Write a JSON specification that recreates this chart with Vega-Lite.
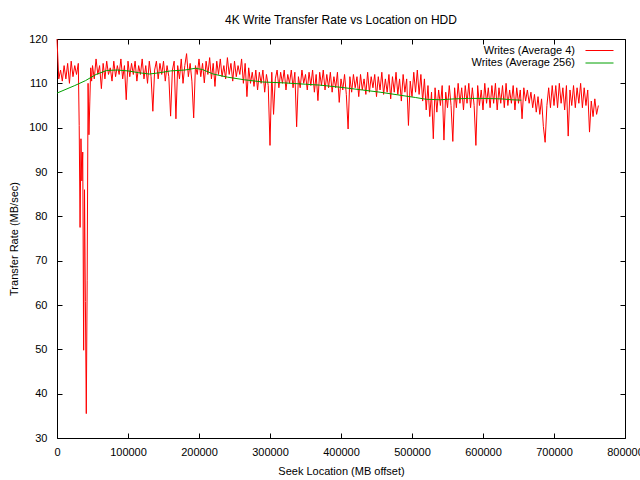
{
  "$schema": "https://vega.github.io/schema/vega-lite/v6.json",
  "width": 568,
  "height": 399,
  "autosize": "none",
  "padding": {"left": 57, "top": 39, "right": 15, "bottom": 42},
  "background": "white",
  "title": {
    "text": "4K Write Transfer Rate vs Location on HDD",
    "font": "Liberation Sans",
    "fontSize": 12,
    "fontWeight": "normal",
    "color": "#000",
    "anchor": "middle",
    "offset": 6
  },
  "config": {
    "view": {"stroke": "#000", "strokeWidth": 1},
    "axis": {
      "domain": false,
      "grid": false,
      "tickColor": "#000",
      "tickSize": -5,
      "labelFont": "Liberation Sans",
      "labelFontSize": 11,
      "labelColor": "#000",
      "titleFont": "Liberation Sans",
      "titleFontSize": 11,
      "titleFontWeight": "normal",
      "titleColor": "#000"
    },
    "legend": {
      "orient": "none",
      "legendX": 537,
      "legendY": 6,
      "padding": 0,
      "title": null,
      "symbolType": "M-5,0H5",
      "symbolSize": 31.4,
      "symbolStrokeWidth": 1,
      "labelFont": "Liberation Sans",
      "labelFontSize": 11,
      "labelColor": "#000",
      "labelAlign": "right",
      "labelOffset": -30,
      "rowPadding": 0.5
    }
  },
  "datasets": {
    "avg4": [
      {"x": 0, "v": 120}, {"x": 2500, "v": 111}, {"x": 5000, "v": 113}, {"x": 7500, "v": 110.5},
      {"x": 10000, "v": 114}, {"x": 12500, "v": 111}, {"x": 15000, "v": 114.5}, {"x": 17500, "v": 110},
      {"x": 20000, "v": 115}, {"x": 22500, "v": 111.5}, {"x": 25000, "v": 114}, {"x": 27500, "v": 112},
      {"x": 30000, "v": 114.5}, {"x": 31250, "v": 100.5}, {"x": 32500, "v": 77.5}, {"x": 33750, "v": 97.5},
      {"x": 35000, "v": 88}, {"x": 36250, "v": 94.5}, {"x": 37500, "v": 49.8}, {"x": 38750, "v": 86},
      {"x": 40000, "v": 60.8}, {"x": 41250, "v": 35.5}, {"x": 42500, "v": 65.6}, {"x": 43750, "v": 110},
      {"x": 45000, "v": 98.4}, {"x": 46250, "v": 106}, {"x": 47500, "v": 113.5}, {"x": 48750, "v": 110.5},
      {"x": 50000, "v": 114}, {"x": 52500, "v": 111}, {"x": 55000, "v": 115.5}, {"x": 57500, "v": 112},
      {"x": 60000, "v": 114}, {"x": 62500, "v": 108.8}, {"x": 65000, "v": 114.5}, {"x": 67500, "v": 111},
      {"x": 70000, "v": 115}, {"x": 72500, "v": 112}, {"x": 75000, "v": 113.5}, {"x": 77500, "v": 110.5},
      {"x": 80000, "v": 115}, {"x": 82500, "v": 111.5}, {"x": 85000, "v": 114}, {"x": 87500, "v": 112},
      {"x": 90000, "v": 115.5}, {"x": 92500, "v": 111}, {"x": 95000, "v": 114}, {"x": 97500, "v": 106.3},
      {"x": 100000, "v": 115}, {"x": 102500, "v": 111.5}, {"x": 105000, "v": 114.5}, {"x": 107500, "v": 112},
      {"x": 110000, "v": 115}, {"x": 112500, "v": 110.5}, {"x": 115000, "v": 114}, {"x": 117500, "v": 112},
      {"x": 120000, "v": 115.5}, {"x": 122500, "v": 111}, {"x": 125000, "v": 114}, {"x": 127500, "v": 110},
      {"x": 130000, "v": 115}, {"x": 132500, "v": 111.5}, {"x": 135000, "v": 103.7}, {"x": 137500, "v": 113},
      {"x": 140000, "v": 115}, {"x": 142500, "v": 111}, {"x": 145000, "v": 114.5}, {"x": 147500, "v": 112},
      {"x": 150000, "v": 115}, {"x": 152500, "v": 110.5}, {"x": 155000, "v": 114}, {"x": 157500, "v": 111.5},
      {"x": 160000, "v": 102.6}, {"x": 162500, "v": 113}, {"x": 165000, "v": 115}, {"x": 167500, "v": 102},
      {"x": 170000, "v": 114}, {"x": 172500, "v": 111}, {"x": 175000, "v": 115.5}, {"x": 177500, "v": 110},
      {"x": 180000, "v": 114}, {"x": 182500, "v": 116.7}, {"x": 185000, "v": 111.5}, {"x": 187500, "v": 114.5},
      {"x": 190000, "v": 110.5}, {"x": 192500, "v": 102.2}, {"x": 195000, "v": 114}, {"x": 197500, "v": 112},
      {"x": 200000, "v": 115.5}, {"x": 202500, "v": 111.5}, {"x": 205000, "v": 114.5}, {"x": 207500, "v": 110.1},
      {"x": 210000, "v": 115}, {"x": 212500, "v": 112}, {"x": 215000, "v": 115.8}, {"x": 217500, "v": 111},
      {"x": 220000, "v": 114.5}, {"x": 222500, "v": 109.3}, {"x": 225000, "v": 115}, {"x": 227500, "v": 112},
      {"x": 230000, "v": 115.5}, {"x": 232500, "v": 111.5}, {"x": 235000, "v": 114}, {"x": 237500, "v": 111},
      {"x": 240000, "v": 115.8}, {"x": 242500, "v": 112}, {"x": 245000, "v": 114.5}, {"x": 247500, "v": 110.5},
      {"x": 250000, "v": 115}, {"x": 252500, "v": 111.5}, {"x": 255000, "v": 114}, {"x": 257500, "v": 112},
      {"x": 260000, "v": 115.5}, {"x": 262500, "v": 110}, {"x": 265000, "v": 114.5}, {"x": 267500, "v": 107},
      {"x": 270000, "v": 113.5}, {"x": 272500, "v": 110}, {"x": 275000, "v": 112.5}, {"x": 277500, "v": 109.3},
      {"x": 280000, "v": 113}, {"x": 282500, "v": 108.5}, {"x": 285000, "v": 112.5}, {"x": 287500, "v": 110},
      {"x": 290000, "v": 113}, {"x": 292500, "v": 108}, {"x": 295000, "v": 112}, {"x": 297500, "v": 109.5},
      {"x": 300000, "v": 96}, {"x": 302500, "v": 112.5}, {"x": 305000, "v": 103}, {"x": 307500, "v": 111},
      {"x": 310000, "v": 113}, {"x": 312500, "v": 109}, {"x": 315000, "v": 112.5}, {"x": 317500, "v": 110},
      {"x": 320000, "v": 113}, {"x": 322500, "v": 108.5}, {"x": 325000, "v": 112}, {"x": 327500, "v": 110},
      {"x": 330000, "v": 113}, {"x": 332500, "v": 109}, {"x": 335000, "v": 112.5}, {"x": 337500, "v": 100.2},
      {"x": 340000, "v": 111.5}, {"x": 342500, "v": 109}, {"x": 345000, "v": 113}, {"x": 347500, "v": 110},
      {"x": 350000, "v": 112}, {"x": 352500, "v": 108.5}, {"x": 355000, "v": 112.5}, {"x": 357500, "v": 109.5},
      {"x": 360000, "v": 113}, {"x": 362500, "v": 108}, {"x": 365000, "v": 112}, {"x": 367500, "v": 106.1},
      {"x": 370000, "v": 112.5}, {"x": 372500, "v": 109.5}, {"x": 375000, "v": 113}, {"x": 377500, "v": 108.5},
      {"x": 380000, "v": 112}, {"x": 382500, "v": 109}, {"x": 385000, "v": 112.5}, {"x": 387500, "v": 108},
      {"x": 390000, "v": 111.5}, {"x": 392500, "v": 109}, {"x": 395000, "v": 112.5}, {"x": 397500, "v": 105.7},
      {"x": 400000, "v": 111}, {"x": 402500, "v": 108.5}, {"x": 405000, "v": 112}, {"x": 407500, "v": 107.5},
      {"x": 410000, "v": 99.7}, {"x": 412500, "v": 111.5}, {"x": 415000, "v": 108}, {"x": 417500, "v": 112},
      {"x": 420000, "v": 109}, {"x": 422500, "v": 111.5}, {"x": 425000, "v": 107}, {"x": 427500, "v": 112},
      {"x": 430000, "v": 108.5}, {"x": 432500, "v": 111}, {"x": 435000, "v": 107.5}, {"x": 437500, "v": 112.5},
      {"x": 440000, "v": 108}, {"x": 442500, "v": 111.5}, {"x": 445000, "v": 109}, {"x": 447500, "v": 112},
      {"x": 450000, "v": 107}, {"x": 452500, "v": 111.5}, {"x": 455000, "v": 108.5}, {"x": 457500, "v": 112.5},
      {"x": 460000, "v": 107.5}, {"x": 462500, "v": 111}, {"x": 465000, "v": 108}, {"x": 467500, "v": 112},
      {"x": 470000, "v": 106.5}, {"x": 472500, "v": 111.5}, {"x": 475000, "v": 108}, {"x": 477500, "v": 112.5},
      {"x": 480000, "v": 107.5}, {"x": 482500, "v": 111}, {"x": 485000, "v": 106}, {"x": 487500, "v": 112},
      {"x": 490000, "v": 108}, {"x": 492500, "v": 111}, {"x": 495000, "v": 100.5}, {"x": 497500, "v": 110.5},
      {"x": 500000, "v": 107}, {"x": 502500, "v": 112.5}, {"x": 505000, "v": 108}, {"x": 507500, "v": 113},
      {"x": 510000, "v": 107.5}, {"x": 512500, "v": 112}, {"x": 515000, "v": 106}, {"x": 517500, "v": 111},
      {"x": 520000, "v": 104}, {"x": 522500, "v": 109.5}, {"x": 525000, "v": 102.5}, {"x": 527500, "v": 108},
      {"x": 530000, "v": 97.5}, {"x": 532500, "v": 109}, {"x": 535000, "v": 103.5}, {"x": 537500, "v": 108.5},
      {"x": 540000, "v": 105}, {"x": 542500, "v": 109.5}, {"x": 545000, "v": 97.2}, {"x": 547500, "v": 108},
      {"x": 550000, "v": 104.5}, {"x": 552500, "v": 109.5}, {"x": 555000, "v": 105}, {"x": 557500, "v": 96.9},
      {"x": 560000, "v": 109}, {"x": 562500, "v": 104.5}, {"x": 565000, "v": 110}, {"x": 567500, "v": 105.5},
      {"x": 570000, "v": 109}, {"x": 572500, "v": 104}, {"x": 575000, "v": 109.5}, {"x": 577500, "v": 105.5},
      {"x": 580000, "v": 110}, {"x": 582500, "v": 104.5}, {"x": 585000, "v": 109}, {"x": 587500, "v": 105},
      {"x": 590000, "v": 96}, {"x": 592500, "v": 109.5}, {"x": 595000, "v": 105}, {"x": 597500, "v": 108.5},
      {"x": 600000, "v": 104}, {"x": 602500, "v": 110}, {"x": 605000, "v": 105.5}, {"x": 607500, "v": 109},
      {"x": 610000, "v": 104.5}, {"x": 612500, "v": 109.5}, {"x": 615000, "v": 105.5}, {"x": 617500, "v": 110},
      {"x": 620000, "v": 104}, {"x": 622500, "v": 109}, {"x": 625000, "v": 105.5}, {"x": 627500, "v": 109.5},
      {"x": 630000, "v": 104.5}, {"x": 632500, "v": 110}, {"x": 635000, "v": 105}, {"x": 637500, "v": 108.5},
      {"x": 640000, "v": 105.5}, {"x": 642500, "v": 109.5}, {"x": 645000, "v": 104}, {"x": 647500, "v": 109},
      {"x": 650000, "v": 105.5}, {"x": 652500, "v": 108.5}, {"x": 655000, "v": 102}, {"x": 657500, "v": 109},
      {"x": 660000, "v": 106}, {"x": 662500, "v": 108.5}, {"x": 665000, "v": 105.5}, {"x": 667500, "v": 108},
      {"x": 670000, "v": 104.5}, {"x": 672500, "v": 107.5}, {"x": 675000, "v": 103.5}, {"x": 677500, "v": 107},
      {"x": 680000, "v": 103}, {"x": 682500, "v": 106.5}, {"x": 685000, "v": 100.3}, {"x": 687500, "v": 96.7},
      {"x": 690000, "v": 105}, {"x": 692500, "v": 109}, {"x": 695000, "v": 104.5}, {"x": 697500, "v": 109.5},
      {"x": 700000, "v": 105}, {"x": 702500, "v": 109.5}, {"x": 705000, "v": 104.5}, {"x": 707500, "v": 110},
      {"x": 710000, "v": 105.5}, {"x": 712500, "v": 109}, {"x": 715000, "v": 104}, {"x": 717500, "v": 109.5},
      {"x": 720000, "v": 98.1}, {"x": 722500, "v": 108.5}, {"x": 725000, "v": 105}, {"x": 727500, "v": 109.5},
      {"x": 730000, "v": 104.5}, {"x": 732500, "v": 109}, {"x": 735000, "v": 105.5}, {"x": 737500, "v": 110},
      {"x": 740000, "v": 104.5}, {"x": 742500, "v": 109}, {"x": 745000, "v": 105}, {"x": 747500, "v": 108.5},
      {"x": 750000, "v": 99}, {"x": 752500, "v": 106}, {"x": 755000, "v": 102.5}, {"x": 757500, "v": 106.5},
      {"x": 760000, "v": 103}, {"x": 762500, "v": 105}
    ],
    "avg256": [
      {"x": 0, "v": 107.8}, {"x": 25000, "v": 109.5}, {"x": 40000, "v": 110.6}, {"x": 55000, "v": 112},
      {"x": 70000, "v": 112.9}, {"x": 85000, "v": 113}, {"x": 100000, "v": 112.8}, {"x": 115000, "v": 112.4},
      {"x": 130000, "v": 112.1}, {"x": 145000, "v": 112.4}, {"x": 160000, "v": 112.8}, {"x": 180000, "v": 113},
      {"x": 195000, "v": 113.4}, {"x": 205000, "v": 113.1}, {"x": 220000, "v": 112.1}, {"x": 240000, "v": 111.4},
      {"x": 264000, "v": 110.8}, {"x": 290000, "v": 110.3}, {"x": 320000, "v": 110.1}, {"x": 350000, "v": 109.8},
      {"x": 370000, "v": 109.6}, {"x": 400000, "v": 109.1}, {"x": 430000, "v": 108.5}, {"x": 455000, "v": 108},
      {"x": 480000, "v": 107.4}, {"x": 505000, "v": 106.8}, {"x": 520000, "v": 106.4}, {"x": 540000, "v": 106.3},
      {"x": 560000, "v": 106.5}, {"x": 580000, "v": 106.6}, {"x": 600000, "v": 106.6}, {"x": 625000, "v": 106.5},
      {"x": 640000, "v": 106.3}, {"x": 654000, "v": 106.2}
    ]
  },
  "resolve": {"scale": {"x": "independent", "y": "independent"}},
  "layer": [
    {
      "data": {"name": "avg4"},
      "mark": {"type": "line", "strokeWidth": 1, "interpolate": "linear"},
      "encoding": {
        "x": {
          "field": "x",
          "type": "quantitative",
          "scale": {"domain": [0, 800000], "nice": false, "zero": false},
          "axis": {"orient": "bottom", "values": [0, 100000, 200000, 300000, 400000, 500000, 600000, 700000, 800000], "format": "d", "labelPadding": 13, "titlePadding": 8, "title": "Seek Location (MB offset)", "labelFlush": false}
        },
        "y": {
          "field": "v",
          "type": "quantitative",
          "scale": {"domain": [30, 120], "nice": false, "zero": false},
          "axis": {"orient": "left", "values": [30, 40, 50, 60, 70, 80, 90, 100, 110, 120], "labelPadding": 15, "titlePadding": 9, "title": "Transfer Rate (MB/sec)"}
        },
        "color": {
          "datum": "Writes (Average 4)",
          "scale": {"domain": ["Writes (Average 4)", "Writes (Average 256)"], "range": ["#ff0000", "#00a000"]}
        }
      }
    },
    {
      "data": {"name": "avg256"},
      "mark": {"type": "line", "strokeWidth": 1, "interpolate": "linear"},
      "encoding": {
        "x": {
          "field": "x",
          "type": "quantitative",
          "scale": {"domain": [0, 800000], "nice": false, "zero": false},
          "axis": {"orient": "top", "values": [0, 100000, 200000, 300000, 400000, 500000, 600000, 700000, 800000], "labels": false, "title": null}
        },
        "y": {
          "field": "v",
          "type": "quantitative",
          "scale": {"domain": [30, 120], "nice": false, "zero": false},
          "axis": {"orient": "right", "values": [30, 40, 50, 60, 70, 80, 90, 100, 110, 120], "labels": false, "title": null}
        },
        "color": {"datum": "Writes (Average 256)"}
      }
    }
  ]
}
